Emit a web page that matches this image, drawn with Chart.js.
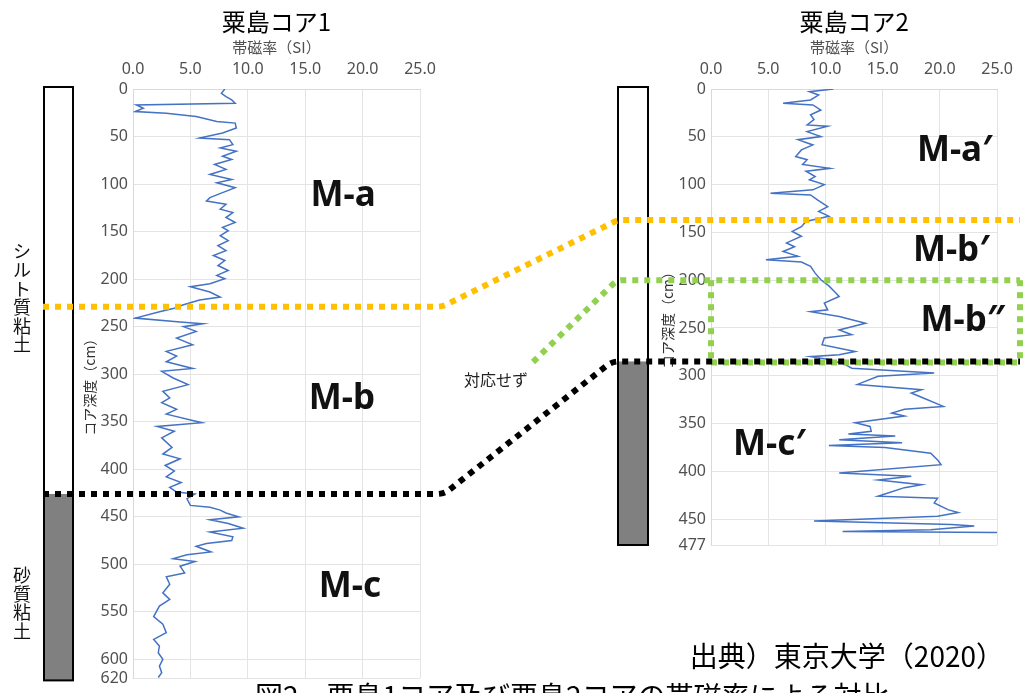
<!DOCTYPE html>
<html lang="ja">
<head>
<meta charset="utf-8">
<title>粟島コアの帯磁率による対比</title>
<script src="https://cdn.jsdelivr.net/npm/chart.js@4.4.1/dist/chart.umd.min.js"></script>
<style>
  html, body { margin: 0; padding: 0; background: #fff; }
  #wrap { position: relative; width: 1023px; height: 693px; overflow: hidden; }
  #wrap canvas { position: absolute; top: 0; }
  #core1 { left: 0; }
  #core2 { left: 580px; }
  #overlay { left: 0; pointer-events: none; }
</style>
</head>
<body>
<div id="wrap">
  <canvas id="core1" width="450" height="693"></canvas>
  <canvas id="core2" width="443" height="693"></canvas>
  <canvas id="overlay" width="1023" height="693"></canvas>
</div>
<script>
const JP = '"Noto Sans CJK JP", "Noto Sans", sans-serif';
const NUM = '"Noto Sans", "Open Sans", sans-serif';

// 粟島コア1 : depth (cm) / magnetic susceptibility
const core1Depth = [0, 4.5, 8, 11.5, 15, 16.7, 20.2, 23.7, 25.4, 28.9,
  34.1, 35.9, 41.1, 46.3, 51.6, 53.3, 58.5, 62, 65.5, 70.7,
  74.2, 79.4, 84.6, 89.9, 95.1, 98.6, 103.8, 109, 114.3, 117.8,
  121.2, 126.4, 129.9, 135.2, 140.4, 145.6, 149.1, 154.3, 159.6, 164.8,
  170, 175.2, 180.4, 185.7, 190.9, 196.1, 199.6, 204.8, 208, 213.5,
  218.8, 222, 227, 231, 234, 241, 245, 247, 250, 255,
  262, 269, 276, 281, 287, 294, 297, 304, 311, 318,
  325, 330, 337, 342, 351, 355, 360, 367, 377, 384,
  389, 396, 402, 408, 414, 419, 424, 426, 431, 438,
  440, 443, 446, 450, 453, 457, 462, 466, 471, 475,
  478, 481, 487, 490, 494, 497, 502, 509, 513, 521,
  530, 537, 544, 555, 563, 572, 579, 586, 593, 600,
  607, 614, 619];
const core1Sus = [8.0, 7.7, 8.1, 8.6, 8.9, 0.3, 0.9, 0.2, 2.9, 5.5,
  7.3, 8.9, 9.0, 7.8, 5.8, 8.4, 8.7, 7.6, 9.0, 7.8,
  8.6, 7.1, 8.1, 6.7, 8.6, 7.3, 8.9, 7.8, 6.7, 6.4,
  8.1, 7.6, 8.7, 8.1, 8.9, 7.8, 8.3, 7.6, 8.3, 7.4,
  8.1, 7.0, 8.0, 7.4, 8.3, 7.3, 8.0, 6.7, 5.0, 6.7,
  7.6, 5.8, 4.4, 3.5, 2.4, 0.2, 4.1, 6.1, 4.4, 5.5,
  3.8, 5.2, 2.9, 3.8, 2.9, 5.2, 2.5, 3.5, 4.8, 2.6,
  3.2, 2.5, 3.8, 2.9, 6.0, 2.1, 3.6, 2.5, 3.4, 2.6,
  4.1, 2.8, 3.6, 2.9, 4.2, 3.2, 3.8, 5.4, 4.7, 5.0,
  6.7, 7.6, 8.1, 9.2, 6.7, 8.3, 9.6, 6.7, 8.7, 8.6,
  6.4, 5.5, 6.8, 4.7, 3.5, 5.4, 4.1, 4.5, 2.9, 3.2,
  2.6, 3.2, 2.3, 1.8, 2.6, 2.9, 1.8, 2.3, 2.2, 2.6,
  2.3, 2.5, 2.2];
const core1Ticks = [0, 50, 100, 150, 200, 250, 300, 350, 400, 450, 500, 550, 600, 620];

// 粟島コア2
const core2Depth = [0, 2.8, 6.3, 11.5, 15, 16.7, 22, 27, 32, 37.6,
  39, 44.6, 49.8, 53, 58.5, 63.7, 70.7, 74, 79, 83,
  86, 91.6, 95, 100, 105.5, 109, 110.8, 116, 123, 128,
  133, 138.6, 144, 149, 154, 161, 165, 170, 175, 178.7,
  181, 185.6, 192.6, 199.6, 206, 212, 217, 224, 231, 233,
  238, 245, 252, 257, 260.5, 267.5, 274.5, 278, 280, 283,
  288, 292, 297, 300.6, 309, 314.5, 318, 323, 332, 335,
  339, 342, 349, 353, 358, 361, 363, 367, 370, 373,
  375, 381, 388, 393, 401.6, 405, 409, 414, 417, 426,
  428, 433, 440, 443, 447, 452, 455.5, 457, 461, 463,
  464];
const core2Sus = [10.7, 8.6, 9.4, 8.7, 6.3, 8.9, 9.6, 8.7, 9.0, 8.4,
  10.2, 8.4, 9.6, 7.6, 8.9, 7.9, 7.4, 8.4, 8.0, 10.4,
  8.3, 9.1, 8.6, 9.9, 8.9, 5.2, 8.7, 9.3, 10.2, 9.4,
  10.3, 8.3, 7.9, 7.1, 7.9, 6.6, 7.3, 6.3, 7.6, 4.8,
  7.9, 8.7, 9.1, 9.6, 10.3, 10.8, 11.2, 9.9, 10.2, 8.7,
  11.2, 13.5, 11.2, 12.3, 9.9, 9.7, 12.6, 11.2, 8.7, 10.3,
  11.7, 12.3, 19.5, 14.6, 12.8, 18.4, 17.5, 18.5, 20.3, 16.9,
  15.8, 16.9, 12.6, 13.9, 14.0, 12.0, 16.1, 11.2, 16.7, 10.3,
  15.2, 19.2, 19.8, 20.1, 11.2, 17.5, 14.6, 18.4, 16.9, 14.6,
  19.8, 19.5, 20.7, 21.6, 19.8, 9.0, 21.0, 23.0, 19.2, 11.5,
  25.0];
const core2Ticks = [0, 50, 100, 150, 200, 250, 300, 350, 400, 450, 477];

const susTicks = [0, 5, 10, 15, 20, 25];

// unit boundaries (cm)
const core1Bounds = { ab: 229, bc: 426 };
const core2Bounds = { ab: 137, bb: 200, bc: 285 };

function makeCoreChart(id, title, depths, sus, depthTicks, pad) {
  const points = depths.map((d, i) => ({ x: sus[i], y: d }));
  return new Chart(document.getElementById(id), {
    type: 'scatter',
    data: {
      datasets: [{
        data: points,
        showLine: true,
        borderColor: '#4472C4',
        borderWidth: 1.5,
        pointRadius: 0,
        tension: 0
      }]
    },
    options: {
      responsive: false,
      animation: false,
      layout: { padding: pad },
      plugins: {
        legend: { display: false },
        tooltip: { enabled: false },
        title: {
          display: true,
          fullSize: false,
          text: title,
          color: '#000',
          font: { family: JP, size: 24, weight: 'normal' },
          padding: { top: 7, bottom: 0 }
        }
      },
      scales: {
        x: {
          type: 'linear',
          position: 'top',
          min: 0,
          max: 25,
          afterBuildTicks: s => { s.ticks = susTicks.map(v => ({ value: v })); },
          afterFit: s => { s.height = 53.2; },
          ticks: {
            padding: 10,
            color: '#505050',
            font: { family: NUM, size: 16 },
            callback: v => v.toFixed(1)
          },
          grid: { color: '#e4e4e4', drawTicks: false },
          border: { color: '#d9d9d9' },
          title: {
            display: true,
            text: '帯磁率（SI）',
            color: '#505050',
            font: { family: JP, size: 15 },
            padding: { top: 2, bottom: 0 }
          }
        },
        y: {
          type: 'linear',
          reverse: true,
          min: 0,
          max: depthTicks[depthTicks.length - 1],
          afterBuildTicks: s => { s.ticks = depthTicks.map(v => ({ value: v })); },
          afterFit: s => { s.width = 54; },
          ticks: {
            padding: 5,
            color: '#505050',
            font: { family: NUM, size: 16 }
          },
          grid: { color: '#e4e4e4', drawTicks: false },
          border: { color: '#d9d9d9' },
          title: {
            display: true,
            text: 'コア深度（cm）',
            color: '#303030',
            font: { family: JP, size: 14 },
            padding: { top: 2, bottom: 0 }
          }
        }
      }
    }
  });
}

const chart1 = makeCoreChart('core1', '粟島コア1', core1Depth, core1Sus, core1Ticks,
  { left: 79, right: 30, top: 0, bottom: 11 });
const chart2 = makeCoreChart('core2', '粟島コア2', core2Depth, core2Sus, core2Ticks,
  { left: 77, right: 23, top: 0, bottom: 148 });

// ---- columns, correlation lines and labels on top of both charts ----
const OFF2 = 580;

function drawColumn(ctx, left, width, top, split, bottom) {
  ctx.fillStyle = '#fff';
  ctx.fillRect(left, top, width, split - top);
  ctx.fillStyle = '#808080';
  ctx.fillRect(left, split, width, bottom - split);
  ctx.lineWidth = 2;
  ctx.strokeStyle = '#000';
  ctx.strokeRect(left, top, width, bottom - top);
}

function drawVertical(ctx, text, x, yCenter, step) {
  const chars = [...text];
  let y = yCenter - (chars.length - 1) * step / 2;
  chars.forEach(c => { ctx.fillText(c, x, y); y += step; });
}

function dotted(ctx, color, pts, dash, radius) {
  ctx.save();
  ctx.strokeStyle = color;
  ctx.lineWidth = 6;
  ctx.lineCap = 'butt';
  ctx.setLineDash(dash);
  ctx.beginPath();
  ctx.moveTo(pts[0][0], pts[0][1]);
  for (let i = 1; i < pts.length - 1; i++) {
    ctx.arcTo(pts[i][0], pts[i][1], pts[i + 1][0], pts[i + 1][1], radius);
  }
  const last = pts[pts.length - 1];
  ctx.lineTo(last[0], last[1]);
  ctx.stroke();
  ctx.restore();
}

function drawOverlay() {
  const ctx = document.getElementById('overlay').getContext('2d');
  const y1 = d => chart1.scales.y.getPixelForValue(d);
  const y2 = d => chart2.scales.y.getPixelForValue(d);
  const x1 = v => chart1.scales.x.getPixelForValue(v);
  const x2 = v => OFF2 + chart2.scales.x.getPixelForValue(v);
  const a2left = OFF2 + chart2.chartArea.left;
  const rightEnd = 1020;

  drawColumn(ctx, 44, 29, y1(0) - 2, y1(core1Bounds.bc), y1(620) + 2);
  drawColumn(ctx, 618, 30, y2(0) - 2, y2(core2Bounds.bc), y2(477));

  ctx.fillStyle = '#111';
  ctx.font = '18px ' + JP;
  ctx.textAlign = 'center';
  ctx.textBaseline = 'middle';
  drawVertical(ctx, 'シルト質粘土', 22, y1(220), 18.6);
  drawVertical(ctx, '砂質粘土', 22, y1(541), 18.6);

  // green box of M-b''
  const gTop = y2(core2Bounds.bb), gBot = y2(core2Bounds.bc);
  dotted(ctx, '#92D050', [[a2left, gTop], [a2left, gBot]], [6, 6], 0);
  dotted(ctx, '#92D050', [[rightEnd, gTop], [rightEnd, gBot]], [6, 6], 0);
  dotted(ctx, '#92D050', [[a2left, gBot + 1], [rightEnd, gBot + 1]], [6, 6], 0);

  dotted(ctx, '#FFC000', [[43, y1(core1Bounds.ab)], [442, y1(core1Bounds.ab)],
    [618, y2(core2Bounds.ab)], [rightEnd, y2(core2Bounds.ab)]], [6, 6], 20);
  dotted(ctx, '#92D050', [[533, 362], [617, gTop], [rightEnd, gTop]], [6, 6], 12);
  dotted(ctx, '#000', [[43, y1(core1Bounds.bc)], [444, y1(core1Bounds.bc)],
    [612, gBot], [rightEnd, gBot]], [6, 6], 20);

  ctx.fillStyle = '#222';
  ctx.font = '16px ' + JP;
  ctx.fillText('対応せず', 496, 380);

  ctx.fillStyle = '#111';
  ctx.font = 'bold 35px ' + NUM;
  [['M-a', 18.3, 113], ['M-b', 18.2, 326], ['M-c', 18.9, 524]]
    .forEach(([t, v, d]) => ctx.fillText(t, x1(v), y1(d)));
  [['M-a′', 21.3, 65], ['M-b′', 21.0, 169], ['M-b″', 22.0, 243], ['M-c′', 5.1, 372]]
    .forEach(([t, v, d]) => ctx.fillText(t, x2(v), y2(d)));

  ctx.fillStyle = '#000';
  ctx.font = '28px ' + JP;
  ctx.textAlign = 'right';
  ctx.fillText('出典）東京大学（2020）', 1004, 656);
  ctx.textAlign = 'left';
  ctx.textBaseline = 'top';
  ctx.fillText('図2　粟島1コア及び粟島2コアの帯磁率による対比', 255, 682);
}

drawOverlay();
</script>
</body>
</html>
